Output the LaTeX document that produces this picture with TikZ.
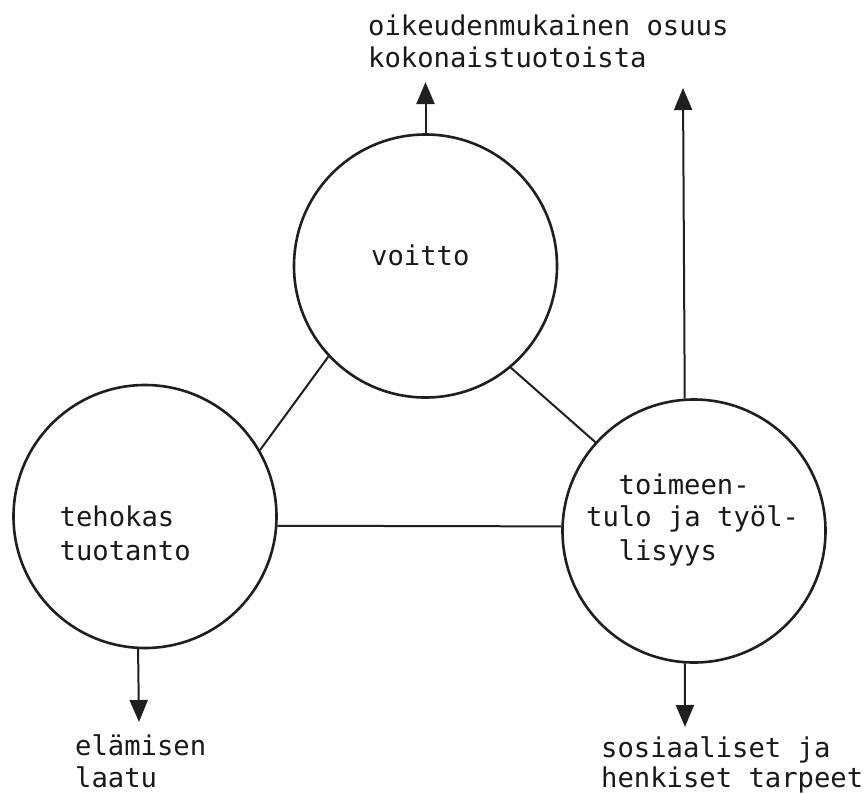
\documentclass[tikz,border=0pt]{standalone}
\usepackage{fontspec}
\setmonofont{DejaVu Sans Mono}
\usetikzlibrary{arrows.meta}
\tikzset{
  ring/.style={circle, draw=black!88, line width=2.6pt, minimum size=263pt, inner sep=0pt},
  link/.style={draw=black!88, line width=2pt},
  outarrow/.style={draw=black!88, line width=2pt, -{Triangle[width=18pt,length=22pt]}},
  lbl/.style={anchor=base west, inner sep=0pt, font=\ttfamily\fontsize{27.2pt}{32pt}\selectfont, text=black!90}
}
\begin{document}
\begin{tikzpicture}[x=1pt,y=-1pt]
\fill[white] (0,0) rectangle (867,793);
\useasboundingbox (0,0) rectangle (867,793);

% circles
\node[ring] (top) at (425.5,266) {};
\node[ring] (left) at (145,516.5) {};
\node[ring] (right) at (694,531) {};

% texts inside circles
\node[lbl] (tv) at (371,265) {voitto};
\node[lbl] (tl1) at (59.5,526.7) {tehokas};
\node[lbl] (tl2) at (59.5,560) {tuotanto};
\node[lbl] (tr1) at (618.5,494) {toimeen-};
\node[lbl] (tr2) at (586,526.7) {tulo ja työl-};
\node[lbl] (tr3) at (618.5,560) {lisyys};

% outside labels
\node[lbl] (o1) at (368,35) {oikeudenmukainen osuus};
\node[lbl] (o2) at (368,67) {kokonaistuotoista};
\node[lbl] (b1) at (75,755) {elämisen};
\node[lbl] (b2) at (75,787) {laatu};
\node[lbl] (c1) at (601,757) {sosiaaliset ja};
\node[lbl] (c2) at (601,787) {henkiset tarpeet};

% connectors between circles
\path[link] (top.223.9) -- (left.30.5);
\path[link] (top.310.6) -- (right.138.9);
\path[link] (left.-4.3) -- (right.178);

% arrow tips
\coordinate (tipTop) at (425.5,82);
\coordinate (tipRightUp) at (683,88);
\coordinate (tipRightDown) at (685,727);
\coordinate (tipLeftDown) at (139,722);

\draw[outarrow] (top.north) -- (tipTop);
\draw[outarrow] (right.94.8) -- (tipRightUp);
\draw[outarrow] (right.266) -- (tipRightDown);
\draw[outarrow] (left.267.4) -- (tipLeftDown);
\end{tikzpicture}
\end{document}
